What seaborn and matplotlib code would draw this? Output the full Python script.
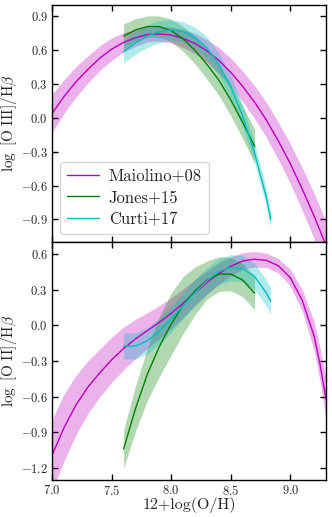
import numpy as np
import matplotlib.pyplot as plt
import seaborn as sns

# ---------------------
# data (12+log(O/H) grid, line ratio, band half-width)
# ---------------------
# top panel: log [O III]/Hb
oh_mai_o3 = [7.0, 7.1, 7.2, 7.3, 7.4, 7.5, 7.6, 7.7, 7.8, 7.9, 8.0, 8.1,
             8.2, 8.3, 8.4, 8.5, 8.6, 8.7, 8.8, 8.9, 9.0, 9.1, 9.2, 9.3]
mai_o3 = [0.04, 0.19, 0.32, 0.43, 0.53, 0.61, 0.67, 0.71, 0.74, 0.745, 0.735, 0.705,
          0.66, 0.595, 0.51, 0.405, 0.28, 0.14, -0.02, -0.205, -0.405, -0.63, -0.87, -1.13]
mai_o3_err = [0.17, 0.15, 0.135, 0.12, 0.11, 0.10, 0.085, 0.075, 0.065, 0.065, 0.07, 0.08,
              0.09, 0.10, 0.115, 0.125, 0.135, 0.145, 0.155, 0.165, 0.175, 0.19, 0.20, 0.21]

oh_jon = [7.6, 7.7, 7.8, 7.9, 8.0, 8.1, 8.2, 8.3, 8.4, 8.5, 8.6, 8.7]
jon_o3 = [0.725, 0.78, 0.81, 0.81, 0.775, 0.70, 0.60, 0.475, 0.335, 0.16, -0.04, -0.25]
jon_o3_err = [0.11, 0.10, 0.095, 0.095, 0.10, 0.11, 0.12, 0.13, 0.135, 0.14, 0.145, 0.15]

oh_cur = [7.6, 7.7, 7.8, 7.9, 8.0, 8.1, 8.2, 8.3, 8.4, 8.5, 8.6, 8.7, 8.8, 8.835]
cur_o3 = [0.59, 0.665, 0.725, 0.765, 0.78, 0.765, 0.715, 0.62, 0.475, 0.275, 0.015, -0.31, -0.71, -0.9]
cur_o3_err = [0.10, 0.10, 0.10, 0.10, 0.09, 0.09, 0.09, 0.10, 0.10, 0.10, 0.10, 0.09, 0.08, 0.07]

# bottom panel: log [O II]/Hb
oh_mai_o2 = [7.0, 7.1, 7.2, 7.3, 7.4, 7.5, 7.6, 7.7, 7.8, 7.9, 8.0, 8.1, 8.2,
             8.3, 8.4, 8.5, 8.6, 8.7, 8.8, 8.9, 9.0, 9.1, 9.2, 9.25, 9.3]
mai_o2 = [-1.09, -0.86, -0.67, -0.52, -0.40, -0.29, -0.195, -0.115, -0.045, 0.025, 0.10, 0.185, 0.275,
          0.36, 0.435, 0.495, 0.54, 0.555, 0.545, 0.50, 0.40, 0.21, -0.09, -0.33, -0.62]
mai_o2_err = [0.30, 0.28, 0.25, 0.22, 0.20, 0.19, 0.18, 0.165, 0.15, 0.14, 0.13, 0.12, 0.11,
              0.10, 0.09, 0.08, 0.07, 0.065, 0.06, 0.06, 0.07, 0.09, 0.12, 0.14, 0.17]

jon_o2 = [-1.04, -0.70, -0.41, -0.18, 0.01, 0.17, 0.29, 0.38, 0.43, 0.43, 0.38, 0.27]
jon_o2_err = [0.16, 0.19, 0.22, 0.25, 0.26, 0.24, 0.20, 0.16, 0.145, 0.14, 0.14, 0.14]

cur_o2 = [-0.175, -0.175, -0.13, -0.05, 0.05, 0.165, 0.275, 0.375, 0.45, 0.485, 0.475, 0.41, 0.27, 0.20]
cur_o2_err = [0.11, 0.11, 0.11, 0.11, 0.11, 0.11, 0.11, 0.11, 0.11, 0.11, 0.11, 0.11, 0.11, 0.11]

labels = ['Maiolino+08', 'Jones+15', 'Curti+17']
colors = ['m', 'g', 'c']

# ---------------------
# style
# ---------------------
sns.set_style('ticks')
plt.rcParams.update({
    'font.family': ['cmr10'],
    'mathtext.fontset': 'cm',
    'axes.formatter.use_mathtext': True,
    'axes.unicode_minus': True,
    'xtick.direction': 'in',
    'ytick.direction': 'in',
    'xtick.top': True,
    'ytick.right': True,
    'axes.edgecolor': 'black',
    'axes.linewidth': 1.0,
})

fig = plt.figure(figsize=(3.32, 5.17), dpi=100)
ax1 = fig.add_axes([0.157, 0.532, 0.825, 0.458])
ax2 = fig.add_axes([0.157, 0.0716, 0.825, 0.4604], sharex=ax1)

panels = [
    (ax1, [(oh_mai_o3, mai_o3, mai_o3_err), (oh_jon, jon_o3, jon_o3_err), (oh_cur, cur_o3, cur_o3_err)]),
    (ax2, [(oh_mai_o2, mai_o2, mai_o2_err), (oh_jon, jon_o2, jon_o2_err), (oh_cur, cur_o2, cur_o2_err)]),
]

for ax, series in panels:
    for (x, y, e), lab, col in zip(series, labels, colors):
        x = np.array(x)
        y = np.array(y)
        e = np.array(e)
        ax.fill_between(x, y - e, y + e, color=col, alpha=0.3, lw=0)
        sns.lineplot(x=x, y=y, ax=ax, color=col, lw=1.0,
                     label=lab if ax is ax1 else None, legend=False)
    ax.tick_params(length=4, width=1, labelsize=9, color='black', pad=3)

ax1.set_xlim(7.0, 9.3)
ax1.set_ylim(-1.1, 1.0)
ax1.set_yticks([-0.9, -0.6, -0.3, 0.0, 0.3, 0.6, 0.9])
ax1.tick_params(labelbottom=False)
ax1.set_ylabel(r'$\log\ [\mathrm{O\ III}]/\mathrm{H}\beta$', fontsize=11, labelpad=1)
ax1.legend(loc='lower left', fontsize=12, labelspacing=0.38,
           handlelength=1.9, handletextpad=0.6)

ax2.set_ylim(-1.3, 0.7)
ax2.set_yticks([-1.2, -0.9, -0.6, -0.3, 0.0, 0.3, 0.6])
ax2.set_xticks([7.0, 7.5, 8.0, 8.5, 9.0])
ax2.set_ylabel(r'$\log\ [\mathrm{O\ II}]/\mathrm{H}\beta$', fontsize=11, labelpad=1)
ax2.set_xlabel('12+log(O/H)', fontsize=11.5, labelpad=-1)

plt.savefig('out.png', dpi=100)
